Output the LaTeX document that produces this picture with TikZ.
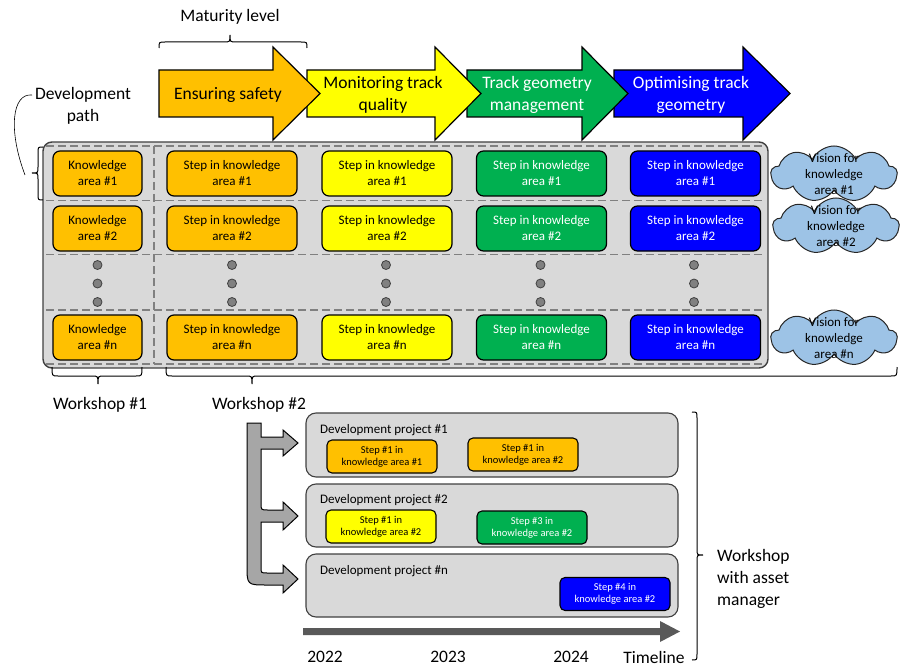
\documentclass[tikz,border=0pt]{standalone}
\usepackage{fontspec}
\setmainfont{Carlito}
\usetikzlibrary{shapes.symbols}
\definecolor{cOrange}{HTML}{FFC000}
\definecolor{cYellow}{HTML}{FFFF00}
\definecolor{cGreen}{HTML}{00B050}
\definecolor{cBlue}{HTML}{0000FF}
\definecolor{cGray}{HTML}{D9D9D9}
\definecolor{cCloud}{HTML}{9DC3E6}
\definecolor{cDash}{HTML}{808080}
\definecolor{cTrunk}{HTML}{A6A6A6}
\definecolor{cTime}{HTML}{595959}
\definecolor{cEdge}{HTML}{404040}
\begin{document}
\begin{tikzpicture}[x=1pt,y=-1pt,
  big/.style={font=\fontsize{17.5}{22}\selectfont, align=center, inner sep=0pt},
  kbox/.style={draw=black, line width=1.2pt, rounded corners=7pt, minimum width=130pt, minimum height=45pt, inner sep=0pt, align=center, font=\fontsize{13}{16}\selectfont},
  kfirst/.style={kbox, minimum width=89pt},
  sbox/.style={draw=black, line width=1.1pt, rounded corners=5pt, minimum width=110pt, minimum height=33pt, inner sep=0pt, align=center, font=\fontsize{10.5}{12}\selectfont},
  devbox/.style={draw=cEdge, line width=1.1pt, fill=cGray, rounded corners=10pt, minimum width=372pt, inner sep=0pt},
  devlabel/.style={anchor=west, inner sep=0pt, font=\fontsize{13}{16}\selectfont},
  bigarrow/.style={draw=black, line width=1.2pt},
  bracket/.style={draw=black, line width=1pt},
  gridline/.style={draw=cDash, line width=1.6pt, dash pattern=on 8pt off 4pt},
  dotnode/.style={circle, draw=cEdge, line width=0.8pt, fill=cDash, minimum size=9pt, inner sep=0pt},
  cloudbox/.style={cloud, cloud puffs=9, cloud puff arc=125, cloud ignores aspect, draw=black!85, line width=1pt, fill=cCloud, minimum width=126pt, minimum height=56pt, inner sep=0pt},
  cloudtext/.style={align=center, inner sep=0pt, font=\fontsize{13}{16}\selectfont}
]
\useasboundingbox (0,0) rectangle (900,666);

% ---------- maturity level ----------
\node[big] (maturity) at (230,17) {Maturity level};
\draw[bracket] (159,48) .. controls (159,42) .. (165,42) -- (224,42) .. controls (230,42) .. (230,35) .. controls (230,42) .. (236,42) -- (301,42) .. controls (307,42) .. (307,48);

% ---------- development path ----------
\node[big] (devpath) at (83,106) {Development\\path};
\coordinate (dpstart) at (32,95);
\coordinate (dpend) at (25,175);
\draw[black, line width=0.6pt] (dpstart) .. controls (12,93) and (8,130) .. (dpend);

% ---------- grid background ----------
\node[draw=cEdge, line width=1.4pt, fill=cGray, rounded corners=9pt, minimum width=725pt, minimum height=226pt, inner sep=0pt] (grid) at (405.5,255) {};
\foreach \yy in {146,200.5,254.5,310,364}{
  \draw[gridline] (46,\yy) -- (765,\yy);
}
\draw[gridline] (154,146) -- (154,364);

% ---------- top arrows (right to left) ----------
\filldraw[bigarrow, fill=cBlue] (614,70) -- (743,70) -- (743,47) -- (790,93.5) -- (743,140) -- (743,117) -- (614,117) -- cycle;
\filldraw[bigarrow, fill=cGreen] (467,70) -- (582,70) -- (582,47) -- (628,93.5) -- (582,140) -- (582,117) -- (467,117) -- cycle;
\filldraw[bigarrow, fill=cYellow] (307,70) -- (435,70) -- (435,47) -- (481,93.5) -- (435,140) -- (435,117) -- (307,117) -- cycle;
\filldraw[bigarrow, fill=cOrange] (159,70) -- (273,70) -- (273,47) -- (320,93.5) -- (273,140) -- (273,117) -- (159,117) -- cycle;
\node[big] (m1) at (228,95) {Ensuring safety};
\node[big] (m2) at (383,95) {Monitoring track\\quality};
\node[big, text=white] (m3) at (537,95) {Track geometry\\management};
\node[big, text=white] (m4) at (691,95) {Optimising track\\geometry};

% ---------- grid boxes ----------
\foreach \r/\yy/\lab in {1/173.5/1, 2/228.5/2, n/337.5/n}{
  \node[kfirst, fill=cOrange] (k\r) at (97.5,\yy) {Knowledge\\area \#\lab};
  \node[kbox, fill=cOrange] (o\r) at (232,\yy) {Step in knowledge\\area \#\lab};
  \node[kbox, fill=cYellow] (y\r) at (387,\yy) {Step in knowledge\\area \#\lab};
  \node[kbox, fill=cGreen, text=white] (g\r) at (541.5,\yy) {Step in knowledge\\area \#\lab};
  \node[kbox, fill=cBlue, text=white] (b\r) at (695.5,\yy) {Step in knowledge\\area \#\lab};
}
\foreach \xx/\c in {97.5/a,232/b,386/c,540.5/d,694/e}{
  \foreach \yy/\i in {265/1,283.5/2,302/3}{
    \node[dotnode] (dot\c\i) at (\xx,\yy) {};
  }
}

% ---------- clouds ----------
\node[cloudbox] (v1) at (834,174) {};
\node[cloudtext] (v1t) at (v1) {Vision for\\knowledge\\area \#1};
\node[cloudbox] (v2) at (836,226) {};
\node[cloudtext] (v2t) at (v2) {Vision for\\knowledge\\area \#2};
\node[cloudbox] (vn) at (834,338) {};
\node[cloudtext] (vnt) at (vn) {Vision for\\knowledge\\area \#n};

% ---------- left brace ----------
\draw[bracket] (43,147) .. controls (38,147) .. (38,153) -- (38,167) .. controls (38,173) .. (32,173) .. controls (38,173) .. (38,179) -- (38,194) .. controls (38,200) .. (43,200);

% ---------- workshop braces ----------
\draw[bracket] (52,367) .. controls (52,376) .. (58,376) -- (92,376) .. controls (98,376) .. (98,384) .. controls (98,376) .. (104,376) -- (136,376) .. controls (142,376) .. (142,367);
\draw[bracket] (166,367) .. controls (166,376) .. (172,376) -- (246,376) .. controls (252,376) .. (252,384) .. controls (252,376) .. (258,376) -- (891,376) .. controls (897,376) .. (897,367);
\node[big] (ws1) at (100,405) {Workshop \#1};
\node[big] (ws2) at (259,405) {Workshop \#2};

% ---------- development projects ----------
\node[devbox, minimum height=64pt] (p1) at (492,445) {};
\node[devbox, minimum height=63pt] (p2) at (492,515.5) {};
\node[devbox, minimum height=63pt] (p3) at (492,585.5) {};
\node[devlabel] (p1l) at (320,430) {Development project \#1};
\node[devlabel] (p2l) at (320,500) {Development project \#2};
\node[devlabel] (p3l) at (320,571) {Development project \#n};
\node[sbox, fill=cOrange] (s1) at (382,456.5) {Step \#1 in\\knowledge area \#1};
\node[sbox, fill=cOrange] (s2) at (523,454.5) {Step \#1 in\\knowledge area \#2};
\node[sbox, fill=cYellow] (s3) at (381,526.5) {Step \#1 in\\knowledge area \#2};
\node[sbox, fill=cGreen, text=white] (s4) at (532,527.5) {Step \#3 in\\knowledge area \#2};
\node[sbox, fill=cBlue, text=white] (s5) at (615,594) {Step \#4 in\\knowledge area \#2};

% ---------- trunk arrows ----------
\filldraw[fill=cTrunk, draw=black, line width=1pt]
 (247,423) -- (261,423) -- (261,437) -- (283,437) -- (283,430) -- (298,443) -- (283,456) -- (283,449) -- (261,449)
 -- (261,503) .. controls (261,510) .. (268,510) -- (283,510) -- (283,502) -- (298,516) -- (283,530) -- (283,522) -- (261,522)
 -- (261,567) .. controls (261,573) .. (267,573) -- (283,573) -- (283,565) -- (298,579) -- (283,593) -- (283,585) -- (267,585) .. controls (247,585) .. (247,565) -- cycle;

% ---------- timeline ----------
\fill[cTime] (303,628) -- (660,628) -- (660,621) -- (680,631.5) -- (660,642) -- (660,635) -- (303,635) -- cycle;
\node[big] (y22) at (325,657) {2022};
\node[big] (y23) at (448,657) {2023};
\node[big] (y24) at (571,657) {2024};
\node[big] (tl) at (654,657) {Timeline};

% ---------- right brace ----------
\draw[bracket] (692,412) .. controls (697,412) .. (697,418) -- (697,549) .. controls (697,555) .. (703,555) .. controls (697,555) .. (697,561) -- (697,654) .. controls (697,660) .. (692,660);
\node[big, align=left, anchor=west] (wam) at (717,578.5) {Workshop\\with asset\\manager};
\end{tikzpicture}
\end{document}
